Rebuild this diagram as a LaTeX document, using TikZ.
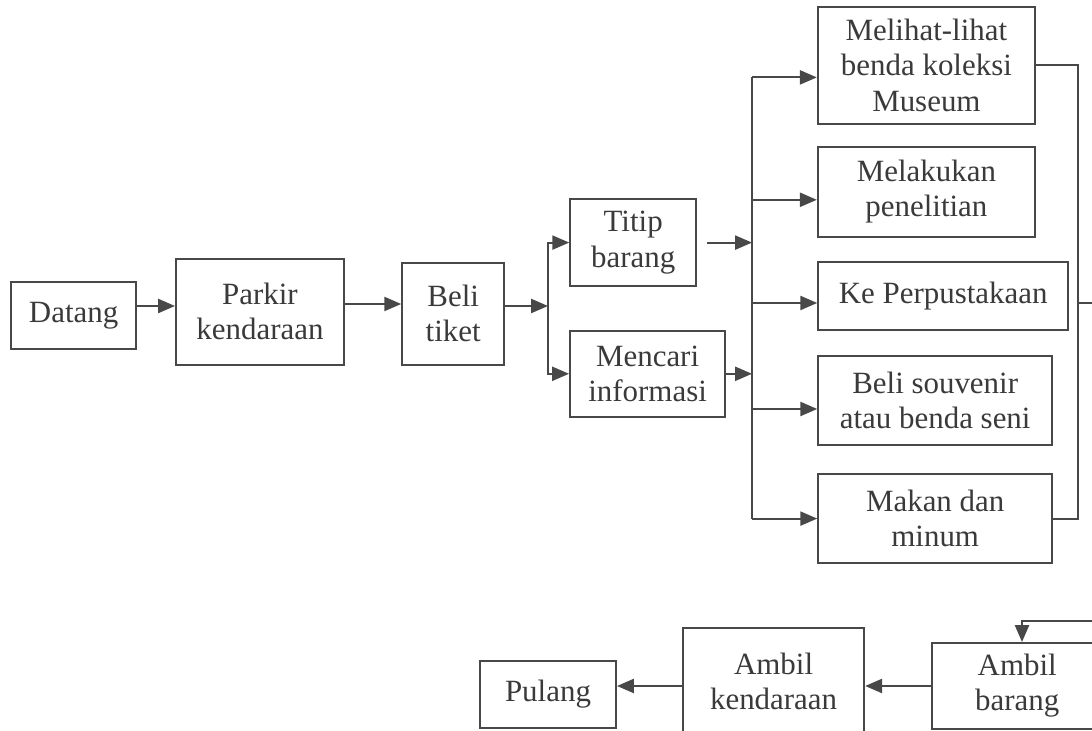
\documentclass[tikz,border=0pt]{standalone}
\usepackage{fontspec}
\setmainfont{Liberation Serif}
\usepackage{tikz}
\usetikzlibrary{arrows.meta}
\usepackage{xcolor}
\definecolor{linegray}{RGB}{72, 72, 72}
\definecolor{textgray}{RGB}{58, 58, 58}

\begin{document}
\begin{tikzpicture}[
    font=\fontsize{22}{25}\selectfont,
    box/.style={draw=linegray, line width=1.4pt, rectangle,
                align=center, inner sep=2pt, text=textgray},
    arr/.style={-{Triangle[length=12pt, width=10pt]}, draw=linegray, line width=1.4pt},
    lin/.style={draw=linegray, line width=1.4pt},
  ]
    \useasboundingbox (0,0) rectangle (27.3,18.275);
    \clip (0,0) rectangle (27.3,18.275);

    % arrival
    \node[box, minimum width=3.13cm, minimum height=1.68cm]
      (datang) at (1.84,10.39) {Datang};
    \node[box, minimum width=4.2cm, minimum height=2.65cm]
      (parkir) at (6.5,10.48) {Parkir\\kendaraan};
    \node[box, minimum width=2.55cm, minimum height=2.55cm]
      (beli) at (11.33,10.43) {Beli\\tiket};

    \node[box, minimum width=3.15cm, minimum height=2.18cm]
      (titip) at (15.83,12.21) {Titip\\barang};
    \node[box, minimum width=3.88cm, minimum height=2.15cm]
      (mencari) at (16.19,8.93) {Mencari\\informasi};

    % activities
    \node[box, minimum width=5.43cm, minimum height=2.93cm]
      (melihat) at (23.16,16.64) {Melihat-lihat\\benda koleksi\\Museum};
    \node[box, minimum width=5.43cm, minimum height=2.25cm]
      (melakukan) at (23.16,13.48) {Melakukan\\penelitian};
    \node[box, minimum width=6.25cm, minimum height=1.7cm]
      (perpus) at (23.58,10.88) {Ke Perpustakaan};
    \node[box, minimum width=5.85cm, minimum height=2.23cm]
      (souvenir) at (23.38,8.26) {Beli souvenir\\atau benda seni};
    \node[box, minimum width=5.85cm, minimum height=2.23cm]
      (makan) at (23.38,5.31) {Makan dan\\minum};

    % leaving
    \node[box, minimum width=4.25cm, minimum height=2.15cm]
      (barang) at (25.43,1.125) {Ambil\\barang};
    \node[box, minimum width=4.53cm, minimum height=2.68cm]
      (kendaraan) at (19.34,1.24) {Ambil\\kendaraan};
    \node[box, minimum width=3.4cm, minimum height=1.68cm]
      (pulang) at (13.7,0.91) {Pulang};

    \coordinate (split) at (13.7,10.625);
    \coordinate (hub) at (18.8,10.7);
    \coordinate (back) at (26.95,10.7);
    \coordinate (exit) at (27.9,10.7);
    \coordinate (drop) at (25.55,2.75);

    \draw[arr] ([yshift=0.235cm]datang.east) -- ([yshift=0.145cm]parkir.west);
    \draw[arr] ([yshift=0.195cm]parkir.east) -- ([yshift=0.245cm]beli.west);
    \draw[arr] ([yshift=0.195cm]beli.east) -- (split);
    \draw[arr] (split) |- (titip.west);
    \draw[arr] (split) |- (mencari.west);

    \draw[arr] ([xshift=0.25cm]titip.east) -- (titip.east -| hub);
    \draw[arr] (mencari.east) -- (mencari.east -| hub);

    \coordinate (inA) at ([yshift=-0.3cm]melihat.west);
    \coordinate (inB) at ([yshift=-0.2cm]melakukan.west);
    \coordinate (inC) at ([yshift=-0.18cm]perpus.west);
    \coordinate (inD) at ([yshift=-0.21cm]souvenir.west);
    \draw[lin] (hub |- inA) -- (hub |- makan.west);
    \draw[arr] (hub |- inA) -- (inA);
    \draw[arr] (hub |- inB) -- (inB);
    \draw[arr] (hub |- inC) -- (inC);
    \draw[arr] (hub |- inD) -- (inD);
    \draw[arr] (hub |- makan.west) -- (makan.west);

    \draw[lin] (melihat.east) -| (back |- makan.east) -- (makan.east);
    \draw[arr] (back) -- (exit) |- (drop) -- (drop |- barang.north);

    \draw[arr] (barang.west) -- (barang.west -| kendaraan.east);
    \draw[arr] (kendaraan.west |- barang.west) -- (pulang.east |- barang.west);
  \end{tikzpicture}
\end{document}
